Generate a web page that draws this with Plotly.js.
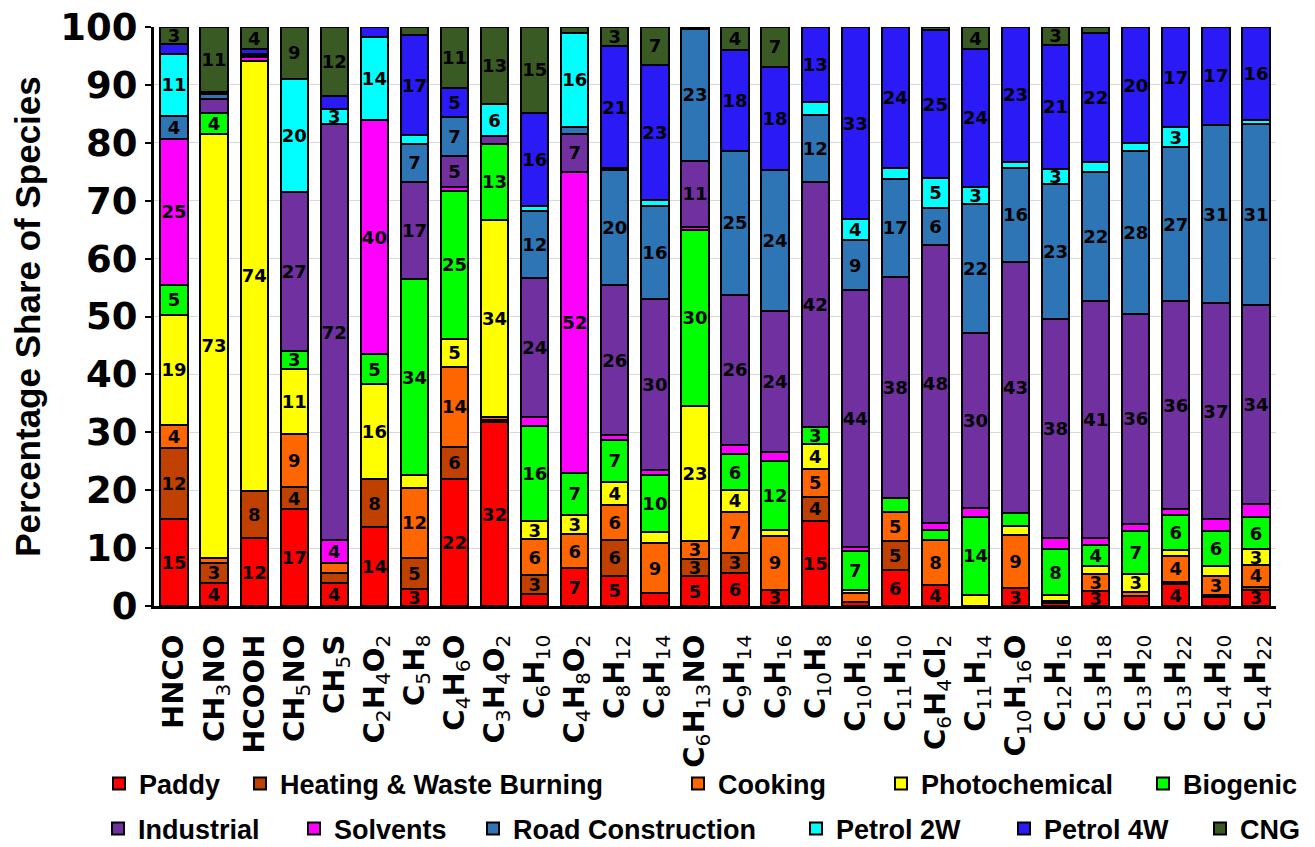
<!DOCTYPE html>
<html>
<head>
<meta charset="utf-8">
<script src="https://cdn.plot.ly/plotly-3.0.1.min.js"></script>
<style>html,body{margin:0;padding:0;background:#fff;}#chart{width:1315px;height:847px;}</style>
</head>
<body>
<div id="chart"></div>
<script>
function s(n){ return "<sub><span style='font-weight:normal'>" + n + "</span></sub>"; }
var species = ["HNCO","CH"+s(3)+"NO","HCOOH","CH"+s(5)+"NO","CH"+s(5)+"S","C"+s(2)+"H"+s(4)+"O"+s(2),"C"+s(5)+"H"+s(8),"C"+s(4)+"H"+s(6)+"O","C"+s(3)+"H"+s(4)+"O"+s(2),"C"+s(6)+"H"+s(10),"C"+s(4)+"H"+s(8)+"O"+s(2),"C"+s(8)+"H"+s(12),"C"+s(8)+"H"+s(14),"C"+s(6)+"H"+s(13)+"NO","C"+s(9)+"H"+s(14),"C"+s(9)+"H"+s(16),"C"+s(10)+"H"+s(8),"C"+s(10)+"H"+s(16),"C"+s(11)+"H"+s(10),"C"+s(6)+"H"+s(4)+"Cl"+s(2),"C"+s(11)+"H"+s(14),"C"+s(10)+"H"+s(16)+"O","C"+s(12)+"H"+s(16),"C"+s(13)+"H"+s(18),"C"+s(13)+"H"+s(20),"C"+s(13)+"H"+s(22),"C"+s(14)+"H"+s(20),"C"+s(14)+"H"+s(22)];

var paddy      = [15, 4, 11.7, 16.7, 3.9, 13.6, 2.9, 21.9, 31.7, 2.1, 6.5, 5.2, 2.2, 5.1, 5.75, 2.8, 14.7, 0.7, 6.2, 3.6, 0, 3.05, 0.5, 2.6, 1.7, 3.8, 1.6, 2.8];
var heating    = [12.3, 3.4, 8.1, 3.9, 1.8, 8.3, 5.4, 5.6, 0.5, 3.25, 0, 6.2, 0, 3.1, 3.45, 0, 4.2, 0, 5.1, 0, 0, 0, 0.4, 0, 0, 0.4, 0.3, 0.5];
var cooking    = [4, 0.9, 0, 9.1, 1.8, 0, 12.1, 13.8, 0.5, 6.15, 5.9, 6.0, 8.7, 3.1, 7.1, 9.3, 4.8, 1.5, 4.9, 7.8, 0, 9.25, 0, 3.0, 0.8, 4.4, 3.2, 3.8];
var photochem  = [19, 73.3, 74.4, 11.3, 0, 16.4, 2.2, 4.9, 34, 3.2, 3.4, 4.1, 1.9, 23.3, 3.7, 1.0, 4.3, 0.6, 0, 0, 1.9, 1.5, 1.0, 1.3, 3.1, 1.1, 1.8, 2.7];
var biogenic   = [5.2, 3.6, 0, 3.1, 0, 5.2, 33.8, 25.4, 13.1, 16.4, 7.1, 7.1, 9.8, 30.4, 6.25, 12.0, 3.0, 6.75, 2.4, 1.7, 13.5, 2.2, 7.9, 3.6, 7.3, 6.0, 6.1, 5.6];
var solvents   = [25.2, 0, 0.6, 0, 3.9, 40.4, 0, 0.8, 0, 1.6, 52.1, 0.9, 0.9, 0.5, 1.55, 1.5, 0, 0.65, 0, 1.2, 1.5, 0, 1.9, 1.2, 1.2, 1.1, 2.0, 2.2];
var industrial = [0, 2.4, 0.3, 27.4, 71.8, 0, 16.9, 5.4, 1.3, 23.9, 6.6, 25.9, 29.6, 11.4, 26.0, 24.3, 42.2, 44.3, 38.3, 48.1, 30.3, 43.4, 37.8, 41.0, 36.4, 35.8, 37.3, 34.4];
var road       = [4, 0.8, 0.3, 0, 0, 0, 6.5, 6.7, 0, 11.7, 1.2, 19.9, 15.9, 22.8, 24.8, 24.4, 11.6, 8.7, 16.8, 6.3, 22.3, 16.3, 23.4, 22.3, 28.0, 26.7, 30.8, 31.2];
var petrol2w   = [10.6, 0, 0, 19.6, 2.6, 14.4, 1.5, 0, 5.6, 0.7, 16.2, 0.3, 1.1, 0, 0, 0, 2.3, 3.6, 1.9, 5.3, 2.9, 0.9, 2.6, 1.7, 1.4, 3.4, 0, 0.7];
var petrol4w   = [1.7, 0.3, 0.8, 0, 2.3, 1.7, 17.3, 4.9, 0, 16.2, 0, 21.1, 23.4, 0, 17.5, 17.8, 12.9, 33.2, 24.4, 25.4, 23.8, 23.4, 21.4, 22.3, 20.1, 17.3, 16.9, 16.1];
var cng        = [3, 11.3, 3.8, 8.9, 11.9, 0, 1.4, 10.6, 13.3, 14.8, 1.0, 3.3, 6.5, 0.3, 3.9, 6.9, 0, 0, 0, 0.6, 3.8, 0, 3.1, 1.0, 0, 0, 0, 0];

var seriesNames  = ["Paddy","Heating & Waste Burning","Cooking","Photochemical","Biogenic","Solvents","Industrial","Road Construction","Petrol 2W","Petrol 4W","CNG"];
var seriesValues = [paddy, heating, cooking, photochem, biogenic, solvents, industrial, road, petrol2w, petrol4w, cng];
var seriesColors = ["#FF0000","#C04000","#FF6600","#FFFF00","#00FF00","#FF00FF","#7030A0","#2E75B6","#00FFFF","#2A1AF5","#3A5A24"];

// legend placement: swatch left edge (px) and row for each series
var legendSwatchX = [113, 254, 692, 895, 1157, 308, 112, 487, 810, 1018, 1214];
var legendRow     = [1, 1, 1, 1, 1, 2, 2, 2, 2, 2, 2];

var plotLeft = 154, plotWidth = 1122, plotBottom = 606, plotHeight = 579;

var traces = seriesNames.map(function(name, i){
  var vals = seriesValues[i];
  return {
    type: "bar",
    name: name,
    x: species,
    y: vals,
    legend: i === 0 ? "legend" : "legend" + (i + 1),
    marker: {color: seriesColors[i], line: {color: "#000000", width: 2}},
    text: vals.map(function(v){ return v >= 2.5 ? String(Math.round(v)) : ""; }),
    textposition: "inside",
    insidetextanchor: "middle",
    textangle: 0,
    constraintext: "none",
    textfont: {family: "DejaVu Sans", size: 18, color: "#000000", weight: "bold"},
    hoverinfo: "name+y"
  };
});

var layout = {
  width: 1315,
  height: 847,
  barmode: "stack",
  bargap: 0.32,
  paper_bgcolor: "#ffffff",
  plot_bgcolor: "#ffffff",
  margin: {l: 154, r: 39, t: 27, b: 241, autoexpand: false},
  uniformtext: {mode: "show", minsize: 18},
  showlegend: true,
  xaxis: {
    type: "category",
    tickangle: -90,
    tickfont: {family: "DejaVu Sans", size: 29, color: "#000000", weight: "bold"},
    showline: true,
    linecolor: "#000000",
    linewidth: 3,
    ticks: "outside",
    ticklen: 14,
    tickcolor: "rgba(0,0,0,0)",
    showgrid: false,
    automargin: false
  },
  yaxis: {
    range: [0, 100],
    dtick: 10,
    tickfont: {family: "DejaVu Sans", size: 37, color: "#000000", weight: "bold"},
    showline: true,
    linecolor: "#000000",
    linewidth: 3,
    ticks: "outside",
    ticklen: 6,
    tickwidth: 2,
    tickcolor: "#000000",
    showgrid: true,
    gridcolor: "#D9D9D9",
    gridwidth: 1,
    zeroline: false,
    automargin: false,
    title: {text: "Percentage Share of Species", font: {family: "Liberation Sans", size: 35, color: "#000000", weight: "bold"}, standoff: 10}
  }
};

seriesNames.forEach(function(name, i){
  var key = i === 0 ? "legend" : "legend" + (i + 1);
  var rowY = legendRow[i] === 1 ? 784 : 829;
  layout[key] = {
    orientation: "h",
    x: (legendSwatchX[i] - 14 - plotLeft) / plotWidth,
    xanchor: "left",
    y: (plotBottom - rowY) / plotHeight,
    yanchor: "middle",
    font: {family: "Liberation Sans", size: 27, color: "#000000", weight: "bold"},
    bgcolor: "rgba(0,0,0,0)",
    borderwidth: 0
  };
});

Plotly.newPlot("chart", traces, layout, {displayModeBar: false, staticPlot: true});
</script>
</body>
</html>
